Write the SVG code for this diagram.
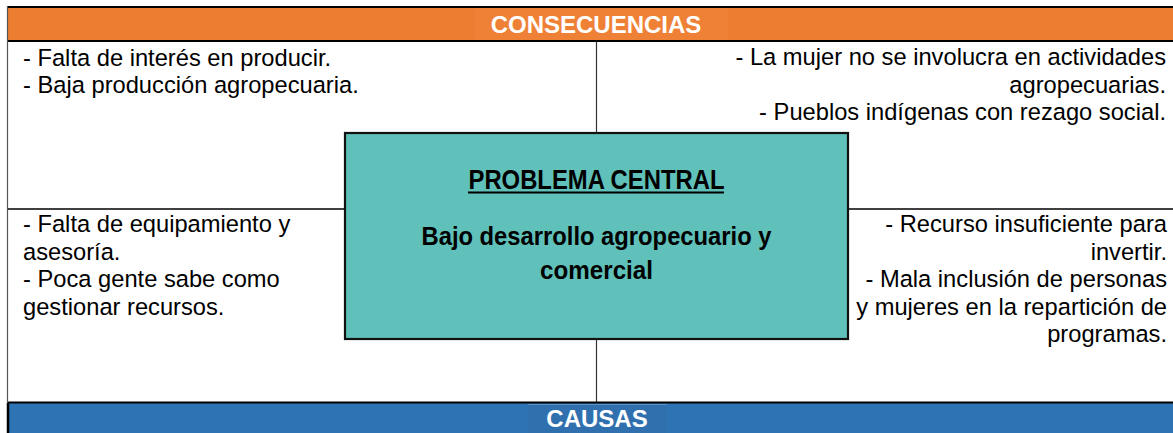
<svg xmlns="http://www.w3.org/2000/svg" width="1173" height="433" viewBox="0 0 1173 433">
  <style>
    .t { font-family: "Liberation Sans", Arial, sans-serif; font-size: 23.7px; fill: #000; }
    .r { text-anchor: end; }
    .hdr { font-family: "Liberation Sans", Arial, sans-serif; font-size: 24px; font-weight: bold; fill: #fff; text-anchor: middle; }
    .ctr { font-family: "Liberation Sans", Arial, sans-serif; font-weight: bold; fill: #000; text-anchor: middle; }
    .ln { stroke: #000; fill: none; }
  </style>
  <rect width="1173" height="433" fill="#fff"/>

  <g id="frame">
    <rect x="8" y="7" width="1170" height="34" fill="#ED7D31"/>
    <rect x="475" y="8" width="253" height="32" fill="#EE8237" opacity="0.9"/>
    <rect x="8" y="403" width="1170" height="30" fill="#2E74B5"/>
    <rect x="528" y="404" width="139" height="29" fill="#3070AE"/>
    <line x1="528" y1="404.5" x2="667" y2="404.5" stroke="#5A92C8" stroke-width="1"/>
    <line class="ln" x1="7" y1="7" x2="1173" y2="7" stroke-width="2"/>
    <line class="ln" x1="7" y1="41" x2="1173" y2="41" stroke-width="2"/>
    <line class="ln" x1="7" y1="402.5" x2="1173" y2="402.5" stroke-width="2"/>
    <line x1="7.5" y1="6" x2="7.5" y2="403" stroke="#555" stroke-width="1.2"/>
    <line class="ln" x1="8" y1="403" x2="8" y2="433" stroke-width="2.5"/>
  </g>

  <g id="connectors">
    <line x1="596.5" y1="42" x2="596.5" y2="402" stroke="#333" stroke-width="1.2"/>
    <line class="ln" x1="8" y1="209" x2="345" y2="209" stroke-width="1.6"/>
    <line class="ln" x1="848" y1="209" x2="1173" y2="209" stroke-width="1.6"/>
  </g>

  <g id="header-consecuencias">
    <text class="hdr" x="596" y="33">CONSECUENCIAS</text>
  </g>

  <g id="consecuencias-left">
    <text class="t" x="23" y="66">- Falta de interés en producir.</text>
    <text class="t" x="23" y="93">- Baja producción agropecuaria.</text>
  </g>

  <g id="consecuencias-right">
    <text class="t r" x="1166" y="65">- La mujer no se involucra en actividades</text>
    <text class="t r" x="1166" y="92.5">agropecuarias.</text>
    <text class="t r" x="1166" y="120">- Pueblos indígenas con rezago social.</text>
  </g>

  <g id="causas-left">
    <text class="t" x="23" y="232">- Falta de equipamiento y</text>
    <text class="t" x="23" y="259.5">asesoría.</text>
    <text class="t" x="23" y="287">- Poca gente sabe como</text>
    <text class="t" x="23" y="314.5">gestionar recursos.</text>
  </g>

  <g id="causas-right">
    <text class="t r" x="1167" y="232">- Recurso insuficiente para</text>
    <text class="t r" x="1167" y="259.5">invertir.</text>
    <text class="t r" x="1167" y="287">- Mala inclusión de personas</text>
    <text class="t r" x="1167" y="314.5">y mujeres en la repartición de</text>
    <text class="t r" x="1167" y="342">programas.</text>
  </g>

  <g id="problema-central">
    <rect x="345" y="133" width="503" height="206" fill="#5FC1B9" stroke="#111" stroke-width="2.2"/>
    <text class="ctr" x="596.5" y="189" font-size="27" textLength="256" lengthAdjust="spacingAndGlyphs">PROBLEMA CENTRAL</text>
    <line x1="468" y1="192.5" x2="724" y2="192.5" stroke="#000" stroke-width="2"/>
    <text class="ctr" x="596.5" y="245" font-size="25" textLength="350" lengthAdjust="spacingAndGlyphs">Bajo desarrollo agropecuario y</text>
    <text class="ctr" x="596.5" y="279" font-size="25" textLength="113" lengthAdjust="spacingAndGlyphs">comercial</text>
  </g>

  <g id="header-causas">
    <text class="hdr" x="597" y="427">CAUSAS</text>
  </g>
</svg>
